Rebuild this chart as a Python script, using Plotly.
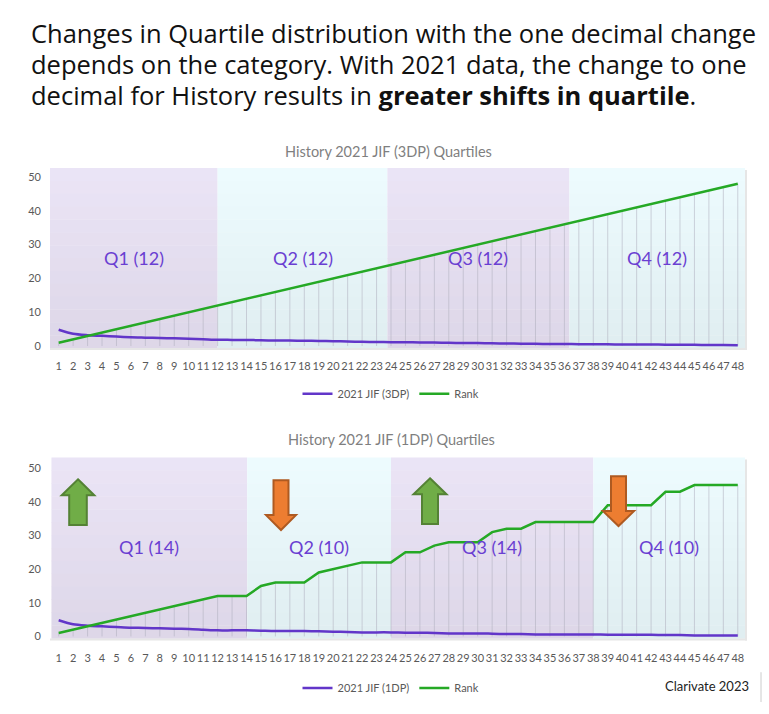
import plotly.graph_objects as go

# ---------------- data ----------------
categories = list(range(1, 49))
tick_labels = [str(c) for c in categories]
y_ticks = [0, 10, 20, 30, 40, 50]

jif_3dp = [4.827, 3.612, 3.205, 3.019, 2.811, 2.600, 2.488, 2.379, 2.296, 2.164,
           2.012, 1.849, 1.821, 1.794, 1.706, 1.649, 1.622, 1.571, 1.515, 1.437,
           1.329, 1.248, 1.218, 1.153, 1.112, 1.079, 1.012, 0.948, 0.921, 0.873,
           0.814, 0.748, 0.701, 0.649, 0.618, 0.587, 0.566, 0.551, 0.498, 0.477,
           0.462, 0.451, 0.398, 0.371, 0.348, 0.322, 0.297, 0.256]
rank_3dp = [1, 2, 3, 4, 5, 6, 7, 8, 9, 10, 11, 12, 13, 14, 15, 16, 17, 18, 19, 20,
            21, 22, 23, 24, 25, 26, 27, 28, 29, 30, 31, 32, 33, 34, 35, 36, 37, 38,
            39, 40, 41, 42, 43, 44, 45, 46, 47, 48]

jif_1dp = [4.8, 3.6, 3.2, 3.0, 2.8, 2.6, 2.5, 2.4, 2.3, 2.2,
           2.0, 1.8, 1.8, 1.8, 1.7, 1.6, 1.6, 1.6, 1.5, 1.4,
           1.3, 1.2, 1.2, 1.2, 1.1, 1.1, 1.0, 0.9, 0.9, 0.9,
           0.8, 0.7, 0.7, 0.6, 0.6, 0.6, 0.6, 0.6, 0.5, 0.5,
           0.5, 0.5, 0.4, 0.4, 0.3, 0.3, 0.3, 0.3]
rank_1dp = [1, 2, 3, 4, 5, 6, 7, 8, 9, 10, 11, 12, 12, 12, 15, 16, 16, 16, 19, 20,
            21, 22, 22, 22, 25, 25, 27, 28, 28, 28, 31, 32, 32, 34, 34, 34, 34, 34,
            39, 39, 39, 39, 43, 43, 45, 45, 45, 45]

q_labels_3dp = ["Q1 (12)", "Q2 (12)", "Q3 (12)", "Q4 (12)"]
q_labels_1dp = ["Q1 (14)", "Q2 (10)", "Q3 (14)", "Q4 (10)"]

chart_titles = ["History 2021 JIF (3DP) Quartiles", "History 2021 JIF (1DP) Quartiles"]
legend_names_3dp = ["2021 JIF (3DP)", "Rank"]
legend_names_1dp = ["2021 JIF (1DP)", "Rank"]
heading_lines = [
    "Changes in Quartile distribution with the one decimal change",
    "depends on the category. With 2021 data, the change to one",
    "decimal for History results in <b>greater shifts in quartile</b>.",
]

# ---------------- style ----------------
W, H = 769, 714
PURPLE = "#6236c9"
GREEN = "#25a925"
LABEL_PURPLE = "#6a3fd2"
GRAY_TXT = "#595959"
FONT = "Lato"
HEAD_FONT = "Open Sans"

bounds_top = [0.4, 12.0, 23.75, 36.35, 48.5]
bounds_bot = [0.5, 14.05, 24.0, 38.0, 48.5]

X_RANGE = [0.4, 48.5]


def px(xp):
    return xp / W


def py(yp):
    return 1 - yp / H


fig = go.Figure()

dom_top = [py(350), py(169)]
dom_bot = [py(642), py(460)]
x_dom = [px(50), px(745)]


def add_chart(jif, rank, names, xa, ya, legend):
    dx, dy = [], []
    for c, r in zip(categories, rank):
        dx += [c, c, None]
        dy += [0, r, None]
    fig.add_trace(go.Scatter(x=dx, y=dy, mode="lines",
                             line=dict(color="rgba(175,175,190,0.55)", width=1),
                             hoverinfo="skip", showlegend=False,
                             xaxis=xa, yaxis=ya))
    fig.add_trace(go.Scatter(x=categories, y=jif, mode="lines", name=names[0],
                             line=dict(color=PURPLE, width=2.5, shape="spline", smoothing=0.8),
                             xaxis=xa, yaxis=ya, legend=legend))
    fig.add_trace(go.Scatter(x=categories, y=rank, mode="lines", name=names[1],
                             line=dict(color=GREEN, width=2.5),
                             xaxis=xa, yaxis=ya, legend=legend))


add_chart(jif_3dp, rank_3dp, legend_names_3dp, "x", "y", "legend")
add_chart(jif_1dp, rank_1dp, legend_names_1dp, "x2", "y2", "legend2")

shapes = []
annotations = []


def hex2rgb(h):
    h = h.lstrip("#")
    return tuple(int(h[i:i + 2], 16) for i in (0, 2, 4))


def lerp(c1, c2, t):
    a, b = hex2rgb(c1), hex2rgb(c2)
    return "rgb(%d,%d,%d)" % tuple(round(a[i] + (b[i] - a[i]) * t) for i in range(3))


LAV = ("#ebe4f6", "#ddd7e8")
CYAN = ("#edfbfe", "#e0eef1")
NB = 14


def add_regions(bounds, xa, ya_dom):
    y0, y1 = ya_dom
    for i in range(4):
        cols = LAV if i % 2 == 0 else CYAN
        for k in range(NB):
            t0 = k / NB
            t1 = (k + 1) / NB
            shapes.append(dict(type="rect", xref=xa, yref="paper",
                               x0=bounds[i], x1=bounds[i + 1],
                               y0=y1 - (y1 - y0) * t1 - 0.0005, y1=y1 - (y1 - y0) * t0,
                               fillcolor=lerp(cols[0], cols[1], (k + 0.5) / NB),
                               line=dict(width=0), layer="below"))


add_regions(bounds_top, "x", dom_top)
add_regions(bounds_bot, "x2", dom_bot)

for (yb, yt) in [(350, 169), (642, 460)]:
    shapes.append(dict(type="rect", xref="paper", yref="paper",
                       x0=px(50), x1=px(747), y0=py(yb + 2), y1=py(yb),
                       fillcolor="#e6e6e6", line=dict(width=0), layer="below"))
    shapes.append(dict(type="rect", xref="paper", yref="paper",
                       x0=px(745), x1=px(747), y0=py(yb + 2), y1=py(yt + 2),
                       fillcolor="#e6e6e6", line=dict(width=0), layer="below"))

for i, lab in enumerate(q_labels_3dp):
    annotations.append(dict(x=(bounds_top[i] + bounds_top[i + 1]) / 2, y=26, xref="x", yref="y",
                            text=lab, showarrow=False,
                            font=dict(family=FONT, size=18, color=LABEL_PURPLE)))
for i, lab in enumerate(q_labels_1dp):
    annotations.append(dict(x=(bounds_bot[i] + bounds_bot[i + 1]) / 2, y=26.6, xref="x2", yref="y2",
                            text=lab, showarrow=False,
                            font=dict(family=FONT, size=18, color=LABEL_PURPLE)))

annotations.append(dict(x=px(388), y=py(152), xref="paper", yref="paper", text=chart_titles[0],
                        showarrow=False, xanchor="center", yanchor="middle",
                        font=dict(family=FONT, size=14.5, color="#7f7f7f")))
annotations.append(dict(x=px(391), y=py(442), xref="paper", yref="paper", text=chart_titles[1],
                        showarrow=False, xanchor="center", yanchor="middle",
                        font=dict(family=FONT, size=14.5, color="#7f7f7f")))

for line, yc in zip(heading_lines, [33, 64.5, 96]):
    annotations.append(dict(
        x=px(29), y=py(yc), xref="paper", yref="paper", xanchor="left", yanchor="middle",
        align="left", showarrow=False, text=line,
        font=dict(family=HEAD_FONT, size=25.5, color="#111111")))

annotations.append(dict(x=px(751), y=py(690), xref="paper", yref="paper", xanchor="right",
                        yanchor="middle", text="Clarivate 2023", showarrow=False,
                        font=dict(family=FONT, size=13, color="#222222")))
shapes.append(dict(type="line", xref="paper", yref="paper", x0=px(761), x1=px(761),
                   y0=py(706), y1=py(676), line=dict(color="#cccccc", width=1)))


def arrow_path(cx, top, headbase, bottom, hw, sw, up=True):
    if up:
        pts = [(cx, top), (cx + hw, headbase), (cx + sw, headbase), (cx + sw, bottom),
               (cx - sw, bottom), (cx - sw, headbase), (cx - hw, headbase)]
    else:
        pts = [(cx - sw, top), (cx + sw, top), (cx + sw, headbase), (cx + hw, headbase),
               (cx, bottom), (cx - hw, headbase), (cx - sw, headbase)]
    return "M " + " L ".join("%f,%f" % (px(a), py(b)) for a, b in pts) + " Z"


arrow_specs = [
    (78, 482, 498, 528, 16.3, 8.8, True),
    (430, 481, 497, 527, 16.5, 8.0, True),
    (281, 483, 518, 533, 15.0, 7.5, False),
    (618.5, 479, 514, 529, 15.5, 7.5, False),
]
for cx, top, hb, bot, hw, sw, up in arrow_specs:
    shapes.append(dict(type="path", xref="paper", yref="paper",
                       path=arrow_path(cx, top, hb, bot, hw, sw, up),
                       fillcolor="#70ad47" if up else "#ed7d31",
                       line=dict(color="#548235" if up else "#ae5a21", width=2), layer="above"))

axis_common = dict(showgrid=False, zeroline=False, showline=False, ticks="",
                   tickfont=dict(family=FONT, size=11, color=GRAY_TXT))

fig.update_layout(
    width=W, height=H, margin=dict(l=0, r=0, t=0, b=0),
    paper_bgcolor="white", plot_bgcolor="rgba(0,0,0,0)",
    shapes=shapes, annotations=annotations,
    xaxis=dict(domain=x_dom, anchor="y", range=X_RANGE, tickmode="array",
               tickvals=categories, ticktext=tick_labels, tickangle=0,
               ticklabelstandoff=10, **axis_common),
    yaxis=dict(domain=dom_top, anchor="x", range=[-0.59, 52.65], tickmode="array",
               tickvals=y_ticks, ticklabelstandoff=8, **axis_common),
    xaxis2=dict(domain=x_dom, anchor="y2", range=X_RANGE, tickmode="array",
                tickvals=categories, ticktext=tick_labels, tickangle=0,
                ticklabelstandoff=12, **axis_common),
    yaxis2=dict(domain=dom_bot, anchor="x2", range=[-0.59, 53.2], tickmode="array",
                tickvals=y_ticks, ticklabelstandoff=8, **axis_common),
    legend=dict(orientation="h", x=px(391), y=py(396), xanchor="center", yanchor="middle",
                font=dict(family=FONT, size=11, color=GRAY_TXT), bgcolor="rgba(0,0,0,0)",
                itemwidth=30, tracegroupgap=0),
    legend2=dict(orientation="h", x=px(391), y=py(692), xanchor="center", yanchor="middle",
                 font=dict(family=FONT, size=11, color=GRAY_TXT), bgcolor="rgba(0,0,0,0)",
                 itemwidth=30, tracegroupgap=0),
    showlegend=True,
)

fig.write_html("out.html", config={"displayModeBar": False},
               post_script="document.body.style.margin='0';document.body.style.padding='0';")
